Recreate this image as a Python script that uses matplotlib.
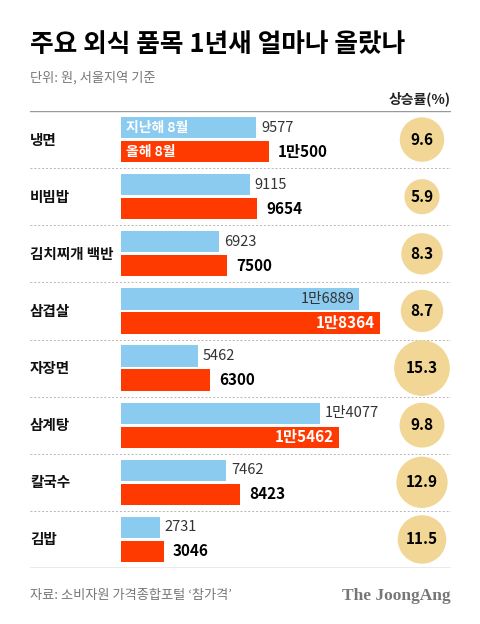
import matplotlib.pyplot as plt
import matplotlib.transforms as mtransforms

plt.rcParams['font.family'] = ['Noto Sans CJK KR', 'DejaVu Sans']

foods = ['냉면', '비빔밥', '김치찌개 백반', '삼겹살', '자장면', '삼계탕', '칼국수', '김밥']
last_year = [9577, 9115, 6923, 16889, 5462, 14077, 7462, 2731]
this_year = [10500, 9654, 7500, 18364, 6300, 15462, 8423, 3046]
rise = [9.6, 5.9, 8.3, 8.7, 15.3, 9.8, 12.9, 11.5]

BLUE = '#8ccbf0'
RED = '#ff3a00'
GOLD = '#f1d696'


def fmt(v):
    if v >= 10000:
        return f'{v // 10000}만{v % 10000}'
    return str(v)


fig = plt.figure(figsize=(4.8, 6.24), dpi=100)
W, H = 480, 624

# bar axes: spans the ruled area (30..451 px, 111..568 px)
ax = fig.add_axes([30 / W, 1 - 568 / H, 421 / W, 457 / H])
px = 259 / 18364  # pixels per won
ax.set_xlim(-91 / px, 330 / px)
ax.set_ylim(len(foods), 0)
ax.axis('off')

bh = 0.37
off = 0.21
for i, name in enumerate(foods):
    yc = i + 0.5
    ax.barh(yc - off, last_year[i], height=bh, color=BLUE, left=0)
    ax.barh(yc + off, this_year[i], height=bh, color=RED, left=0)
    ax.text(-91 / px, yc, name, ha='left', va='center', fontsize=10.5,
            fontweight='bold', color='#111111')
    pad = 5 / px
    if last_year[i] > 15000:
        ax.text(last_year[i] - pad, yc - off, fmt(last_year[i]), ha='right',
                va='center', fontsize=10.5, color='#333333', fontweight='light')
    else:
        ax.text(last_year[i] + pad, yc - off, fmt(last_year[i]), ha='left',
                va='center', fontsize=10.5, color='#333333', fontweight='light')
    if this_year[i] > 15000:
        ax.text(this_year[i] - pad, yc + off, fmt(this_year[i]), ha='right',
                va='center', fontsize=11, color='white', fontweight='bold')
    else:
        ax.text(this_year[i] + 1.8 * pad, yc + off, fmt(this_year[i]), ha='left',
                va='center', fontsize=11, color='black', fontweight='bold')
    if 0 < i:
        ax.axhline(i, color='#b5b5b5', lw=0.7, ls=(0, (2, 2)))

ax.text(5 / px, 0.5 - off, '지난해 8월', ha='left', va='center', fontsize=10,
        color='white', fontweight='bold')
ax.text(5 / px, 0.5 + off, '올해 8월', ha='left', va='center', fontsize=10,
        color='white', fontweight='bold')

ax.axhline(0, color='#999999', lw=1)
ax.axhline(len(foods), color='#999999', lw=1)

# rise circles, area proportional to value
trans = mtransforms.blended_transform_factory(ax.transAxes, ax.transData)
cx = (422 - 30) / 421
ys = [i + 0.5 for i in range(len(foods))]
ax.scatter([cx] * len(foods), ys, s=[r * 100 for r in rise], color=GOLD,
           transform=trans, zorder=3, clip_on=False)
for y, r in zip(ys, rise):
    ax.text(cx, y, f'{r}', ha='center', va='center', fontsize=11,
            fontweight='bold', transform=trans, zorder=4)

fig.text(30 / W, 1 - 45 / H, '주요 외식 품목 1년새 얼마나 올랐나', ha='left',
         va='center', fontsize=18.5, fontweight='heavy', color='black')
fig.text(30 / W, 1 - 78 / H, '단위: 원, 서울지역 기준', ha='left', va='center',
         fontsize=9.5, color='#777777')
fig.text(451 / W, 1 - 99 / H, '상승률(%)', ha='right', va='center',
         fontsize=10, fontweight='bold', color='#222222')
fig.text(30 / W, 1 - 596 / H, '자료: 소비자원 가격종합포털 ‘참가격’', ha='left',
         va='center', fontsize=9.5, color='#777777')
fig.text(451 / W, 1 - 596 / H, 'The JoongAng', ha='right', va='center',
         fontsize=12.5, fontweight='bold', color='#777777',
         family='Liberation Serif')

fig.savefig('out.png', dpi=100, facecolor='white')
